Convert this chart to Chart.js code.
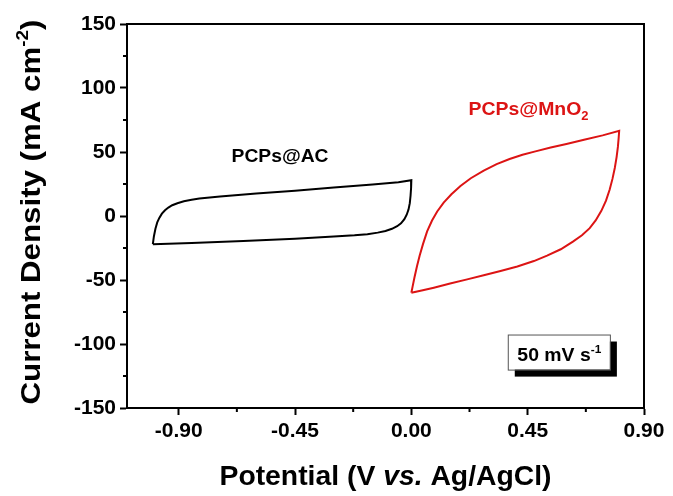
<!DOCTYPE html>
<html>
<head>
<meta charset="utf-8">
<script src="https://cdn.jsdelivr.net/npm/chart.js@4.4.0/dist/chart.umd.min.js"></script>
<style>
html,body{margin:0;padding:0;background:#fff}
#wrap{width:673px;height:496px}
</style>
</head>
<body>
<div id="wrap"><canvas id="myChart" width="673" height="496"></canvas></div>
<script>

// PCPs@AC loop (V, mA cm-2)
const acPotential = [-1.0,-0.996,-0.99,-0.983,-0.975,-0.965,-0.953,-0.94,-0.925,-0.905,-0.88,-0.85,-0.82,-0.78,-0.74,-0.67,-0.6,-0.45,-0.3,-0.15,-0.05,0.0,
  -0.001,-0.003,-0.006,-0.011,-0.018,-0.027,-0.04,-0.055,-0.075,-0.1,-0.13,-0.17,-0.22,-0.3,-0.45,-0.65,-0.85,-1.0]
const acCurrent = [-22,-16,-10,-5,-1.5,1.8,4.5,6.6,8.4,10,11.5,12.7,13.6,14.5,15.3,16.4,17.5,19.8,22.2,24.6,26.4,28,
  22,16,10,5,1,-2.5,-5.7,-8,-10,-11.7,-13,-14.2,-15.1,-16.1,-17.8,-19.6,-21,-22]

// PCPs@MnO2 loop
const mnPotential = [0.0,0.005,0.012,0.022,0.032,0.045,0.061,0.08,0.1,0.125,0.155,0.19,0.23,0.28,0.33,0.38,0.43,0.48,0.539,0.6,0.668,0.74,0.804,
  0.802,0.799,0.794,0.787,0.778,0.767,0.753,0.735,0.713,0.69,0.66,0.625,0.578,0.525,0.474,0.41,0.345,0.28,0.216,0.15,0.087,0.04,0.0]
const mnCurrent = [-60,-55,-48,-39,-31,-22,-12,-3.5,3.5,10.5,17,23.5,29.5,35.5,40.5,44.5,47.8,50.5,53.5,56.3,59.5,63,66.5,
  61,54,46,37.5,29,20.5,12,4,-3.5,-9.5,-15,-20,-26,-31,-35.2,-39.5,-43,-46.3,-49.5,-52.8,-56,-58.2,-60]

const xTicks = [-0.90,-0.45,0.00,0.45,0.90]
const xMinor = [-0.675,-0.225,0.225,0.675]
const yTicks = [-150,-100,-50,0,50,100,150]
const yMinor = [-125,-75,-25,25,75,125]

function pts(xs,ys){
  return xs.map((x,i)=>({x:x,y:ys[i]}))
}

const redColor = "rgb(220,20,20)"
const fontFam = "'Liberation Sans', Arial, sans-serif"

// draws a run of text pieces, optionally squeezed/stretched to a width
function drawRuns(ctx, runs, x, y, align, targetW){
  let w = 0
  runs.forEach(r=>{ ctx.font = r.font; r.w = ctx.measureText(r.t).width; w += r.w })
  let sx = targetW ? targetW / w : 1
  ctx.save()
  ctx.translate(x, y)
  ctx.scale(sx, 1)
  let cx = align === "center" ? -w/2 : 0
  runs.forEach(r=>{
    ctx.font = r.font
    ctx.fillStyle = r.color || "#000"
    ctx.textAlign = "left"
    ctx.textBaseline = "alphabetic"
    ctx.fillText(r.t, cx, r.dy || 0)
    cx += r.w
  })
  ctx.restore()
}

const decorPlugin = {
  id: "decor",
  afterDraw(chart){
    const ctx = chart.ctx
    const a = chart.chartArea
    const xs = chart.scales.x
    const ys = chart.scales.y
    ctx.save()
    // top and right frame
    ctx.strokeStyle = "#000"
    ctx.lineWidth = 2
    ctx.beginPath()
    ctx.moveTo(a.left, a.top)
    ctx.lineTo(a.right, a.top)
    ctx.lineTo(a.right, a.bottom)
    ctx.stroke()
    // minor ticks
    ctx.beginPath()
    xMinor.forEach(v=>{
      const px = xs.getPixelForValue(v)
      ctx.moveTo(px, a.bottom)
      ctx.lineTo(px, a.bottom + 4)
    })
    yMinor.forEach(v=>{
      const py = ys.getPixelForValue(v)
      ctx.moveTo(a.left, py)
      ctx.lineTo(a.left - 4, py)
    })
    ctx.stroke()

    // axis titles
    drawRuns(ctx, [
      {t:"Potential (V ", font:"bold 28px " + fontFam},
      {t:"vs.", font:"italic bold 28px " + fontFam},
      {t:" Ag/AgCl)", font:"bold 28px " + fontFam}
    ], (a.left + a.right) / 2, 485, "center", 332)

    ctx.save()
    ctx.translate(40, 212)
    ctx.rotate(-Math.PI/2)
    drawRuns(ctx, [
      {t:"Current Density (mA cm", font:"bold 28px " + fontFam},
      {t:"-2", font:"bold 17px " + fontFam, dy:-12},
      {t:")", font:"bold 28px " + fontFam}
    ], 0, 0, "center", 385)
    ctx.restore()

    // curve labels
    drawRuns(ctx, [{t:"PCPs@AC", font:"bold 18px " + fontFam}],
      xs.getPixelForValue(-0.508), ys.getPixelForValue(42), "center", 97)
    drawRuns(ctx, [
      {t:"PCPs@MnO", font:"bold 18px " + fontFam, color:redColor},
      {t:"2", font:"bold 12px " + fontFam, dy:5, color:redColor}
    ], xs.getPixelForValue(0.221), ys.getPixelForValue(78.8), "left", 120)

    // scan-rate box with shadow
    const bl = xs.getPixelForValue(0.373), br = xs.getPixelForValue(0.768)
    const bt = ys.getPixelForValue(-92.6), bb = ys.getPixelForValue(-120)
    ctx.fillStyle = "#000"
    ctx.fillRect(bl + 7, bt + 7, br - bl, bb - bt)
    ctx.fillStyle = "#fff"
    ctx.fillRect(bl, bt, br - bl, bb - bt)
    ctx.strokeStyle = "#555"
    ctx.lineWidth = 1
    ctx.strokeRect(bl + 0.5, bt + 0.5, br - bl, bb - bt)
    drawRuns(ctx, [
      {t:"50 mV s", font:"bold 18px " + fontFam},
      {t:"-1", font:"bold 11px " + fontFam, dy:-8}
    ], xs.getPixelForValue(0.41), ys.getPixelForValue(-113.5), "left", 84)
    ctx.restore()
  }
}

new Chart(
  document.getElementById("myChart"),
  {
    type:"scatter",
    data:{
      datasets:[
        {
          label:"PCPs@AC",
          data:pts(acPotential, acCurrent),
          showLine:true,
          borderColor:"#000",
          borderWidth:2,
          pointRadius:0,
          tension:0
        },
        {
          label:"PCPs@MnO2",
          data:pts(mnPotential, mnCurrent),
          showLine:true,
          borderColor:redColor,
          borderWidth:2,
          pointRadius:0,
          tension:0
        }
      ]
    },
    options:{
      responsive:false,
      animation:false,
      layout:{padding:{left:0, top:24, right:29, bottom:0}},
      plugins:{legend:{display:false}, tooltip:{enabled:false}},
      scales:{
        x:{
          type:"linear",
          min:-1.1,
          max:0.9,
          afterBuildTicks(scale){ scale.ticks = xTicks.map(v=>({value:v})) },
          afterFit(scale){ scale.height = 88 },
          ticks:{
            color:"#000",
            padding:4,
            maxRotation:0,
            font:{family:fontFam, size:21, weight:"bold"},
            callback:(v)=>Number(v).toFixed(2)
          },
          grid:{drawOnChartArea:false, color:"#000", tickLength:7, tickWidth:2},
          border:{color:"#000", width:2}
        },
        y:{
          type:"linear",
          min:-150,
          max:150,
          afterBuildTicks(scale){ scale.ticks = yTicks.map(v=>({value:v})) },
          afterFit(scale){ scale.width = 127 },
          ticks:{
            color:"#000",
            padding:4,
            font:{family:fontFam, size:21, weight:"bold"},
            callback:(v)=>String(v)
          },
          grid:{drawOnChartArea:false, color:"#000", tickLength:7, tickWidth:2},
          border:{color:"#000", width:2}
        }
      }
    },
    plugins:[decorPlugin]
  }
)
</script>
</body>
</html>
